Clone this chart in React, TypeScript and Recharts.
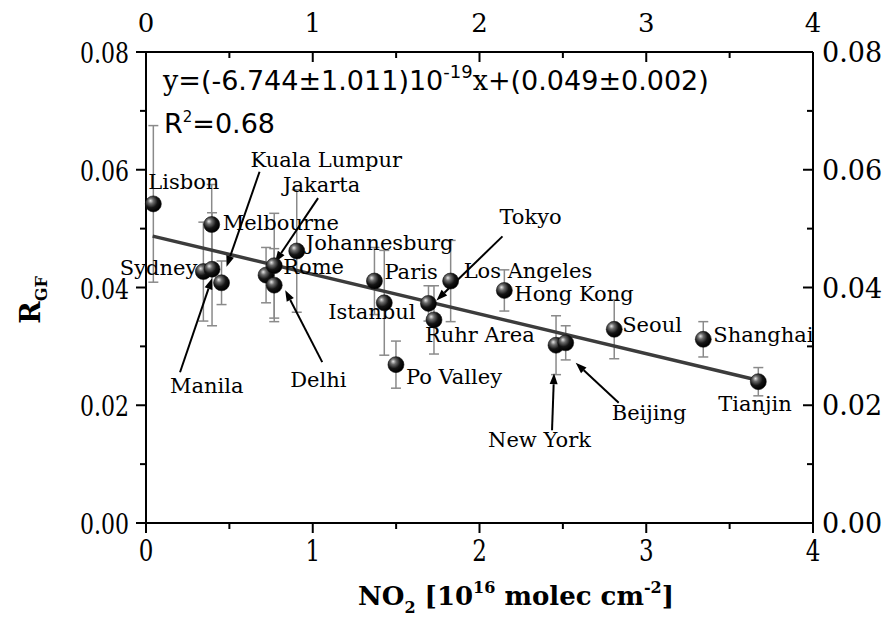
import React from "react";
import { ScatterChart, Scatter, XAxis, YAxis, ErrorBar } from "recharts";

// ---- data ----
const cities = [
  "Lisbon", "Melbourne", "Sydney", "Manila", "Kuala Lumpur", "Jakarta", "Rome",
  "Delhi", "Johannesburg", "Paris", "Istanbul", "Po Valley", "Tokyo", "Ruhr Area",
  "Los Angeles", "Hong Kong", "New York", "Beijing", "Seoul", "Shanghai", "Tianjin",
];
const no2 = [
  0.044, 0.394, 0.344, 0.396, 0.453, 0.72, 0.769, 0.769, 0.904, 1.37, 1.429,
  1.499, 1.694, 1.727, 1.827, 2.149, 2.459, 2.517, 2.808, 3.342, 3.672,
];
const rgf = [
  0.0542, 0.0507, 0.0427, 0.0431, 0.0408, 0.0421, 0.0437, 0.0404, 0.0462, 0.0411,
  0.0374, 0.0269, 0.0373, 0.0345, 0.0411, 0.0395, 0.0302, 0.0306, 0.0329, 0.0312, 0.024,
];
const rgfErr = [
  0.0133, 0.0068, 0.0084, 0.0096, 0.0037, 0.0047, 0.0089, 0.0062, 0.0104, 0.0057,
  0.0089, 0.004, 0.003, 0.0058, 0.0069, 0.0035, 0.005, 0.0029, 0.005, 0.003, 0.0024,
];

// linear fit printed on the figure: y = (-6.744e-19) x[molec cm-2] + 0.049
const fitSlope = -6.744e-19 * 1e16;
const fitIntercept = 0.049;
const fitRange = [0.04, 3.67];

const xTicks = [0, 0.5, 1, 1.5, 2, 2.5, 3, 3.5, 4];
const yTicks = [0, 0.01, 0.02, 0.03, 0.04, 0.05, 0.06, 0.07, 0.08];

const points = cities.map((city, i) => ({ city, no2: no2[i], rgf: rgf[i], err: rgfErr[i] }));
const fitLine = fitRange.map((x) => ({ no2: x, rgf: fitIntercept + fitSlope * x }));

// label placement relative to each point (pixels)
type Placement = { dx: number; dy: number; anchor?: "start" | "end"; arrow?: number[] };
const LABELS: Record<string, Placement> = {
  Lisbon: { dx: -5, dy: -22 },
  Melbourne: { dx: 11, dy: -2 },
  Sydney: { dx: -6, dy: -4, anchor: "end" },
  Manila: { dx: -42, dy: 117, arrow: [-32, 103, 0, 9] },
  "Kuala Lumpur": { dx: 29, dy: -123, arrow: [38, -111, 5, -16] },
  Jakarta: { dx: 17, dy: -90, arrow: [52, -77, 9, -13] },
  Rome: { dx: 9, dy: 1 },
  Delhi: { dx: 16, dy: 95, arrow: [48, 77, 11, 5] },
  Johannesburg: { dx: 9, dy: -8 },
  Paris: { dx: 10, dy: -9 },
  Istanbul: { dx: -56, dy: 9 },
  Tokyo: { dx: 71, dy: -86, arrow: [74, -67, 8, -3] },
  "Ruhr Area": { dx: -9, dy: 15 },
  "Los Angeles": { dx: 13, dy: -10 },
  "Po Valley": { dx: 10, dy: 12 },
  "Hong Kong": { dx: 10, dy: 4 },
  "New York": { dx: -68, dy: 95, arrow: [-4, 85, -2, 28] },
  Beijing: { dx: 46, dy: 70, arrow: [53, 60, 10, 20] },
  Seoul: { dx: 8, dy: -4 },
  Shanghai: { dx: 10, dy: -4 },
  Tianjin: { dx: -40, dy: 22 },
};

const SERIF = "'DejaVu Serif', serif";
const SANS = "'DejaVu Sans', sans-serif";

const isMajorX = (v: number) => Number.isInteger(v);
const isMajorY = (v: number) => Math.round(v * 100) % 2 === 0;

const BottomTick = ({ x, y, payload }: any) => {
  const v = payload.value;
  const major = isMajorX(v);
  return (
    <g>
      <line x1={x} y1={y} x2={x} y2={y + (major ? 10 : 6)} stroke="#000" strokeWidth={2} />
      {major && (
        <text transform={`translate(${x},${y + 38}) scale(1,1.3)`} textAnchor="middle" fontSize={23} fontFamily={SERIF} fill="#000">
          {v}
        </text>
      )}
    </g>
  );
};

const TopTick = ({ x, y, payload }: any) => {
  const v = payload.value;
  const major = isMajorX(v);
  return (
    <g>
      <line x1={x} y1={y} x2={x} y2={y + (major ? 10 : 6)} stroke="#000" strokeWidth={2} />
      {major && (
        <text x={x} y={y - 20} textAnchor="middle" fontSize={26} fontFamily={SERIF} fill="#000">
          {v}
        </text>
      )}
    </g>
  );
};

const LeftTick = ({ x, y, payload }: any) => {
  const v = payload.value;
  const major = isMajorY(v);
  return (
    <g>
      <line x1={x} y1={y} x2={x - (major ? 10 : 6)} y2={y} stroke="#000" strokeWidth={2} />
      {major && (
        <text transform={`translate(${x - 17},${y + 11}) scale(1,1.3)`} textAnchor="end" fontSize={22} fontFamily={SERIF} fill="#000">
          {v.toFixed(2)}
        </text>
      )}
    </g>
  );
};

const RightTick = ({ x, y, payload }: any) => {
  const v = payload.value;
  const major = isMajorY(v);
  return (
    <g>
      <line x1={x} y1={y} x2={x - (major ? 10 : 6)} y2={y} stroke="#000" strokeWidth={2} />
      {major && (
        <text x={x + 9} y={y + 10} textAnchor="start" fontSize={27} fontFamily={SERIF} fill="#000">
          {v.toFixed(2)}
        </text>
      )}
    </g>
  );
};

const Ball = ({ cx, cy }: any) => {
  if (cx == null || cy == null) return <g />;
  return (
    <g>
      <defs>
        <radialGradient id="ballGrad" cx="0.38" cy="0.36" r="0.62" fx="0.32" fy="0.3">
          <stop offset="0%" stopColor="#e6e6e6" />
          <stop offset="28%" stopColor="#6b6b6b" />
          <stop offset="65%" stopColor="#151515" />
          <stop offset="100%" stopColor="#000" />
        </radialGradient>
      </defs>
      <circle cx={cx} cy={cy} r={8} fill="url(#ballGrad)" stroke="#111" strokeWidth={0.6} />
    </g>
  );
};

const CityLabel = ({ cx, cy, payload }: any) => {
  if (cx == null || cy == null) return <g />;
  const p = LABELS[payload.city] || { dx: 10, dy: 0 };
  let arrow = null;
  if (p.arrow) {
    const [x1, y1, x2, y2] = p.arrow;
    const ax = cx + x2;
    const ay = cy + y2;
    const ang = Math.atan2(y2 - y1, x2 - x1);
    const len = 11;
    const hw = 4;
    const bx = ax - len * Math.cos(ang);
    const by = ay - len * Math.sin(ang);
    const nx = -Math.sin(ang) * hw;
    const ny = Math.cos(ang) * hw;
    arrow = (
      <g>
        <line x1={cx + x1} y1={cy + y1} x2={bx} y2={by} stroke="#000" strokeWidth={2} />
        <polygon points={`${ax},${ay} ${bx + nx},${by + ny} ${bx - nx},${by - ny}`} fill="#000" />
      </g>
    );
  }
  return (
    <g>
      {arrow}
      <text
        x={cx + p.dx}
        y={cy + p.dy}
        textAnchor={p.anchor || "start"}
        dominantBaseline="central"
        fontSize={21}
        fontFamily={SERIF}
        fill="#000"
      >
        {payload.city}
      </text>
    </g>
  );
};

export default function App() {
  return (
    <div style={{ position: "absolute", left: 0, top: 0, width: 888, height: 619, background: "#fff" }}>
      <ScatterChart width={888} height={619} margin={{ top: 0, right: 0, bottom: 0, left: 0 }}>
        <XAxis
          xAxisId="bottom"
          orientation="bottom"
          type="number"
          dataKey="no2"
          domain={[0, 4]}
          ticks={xTicks}
          interval={0}
          height={96}
          tickSize={0}
          tickMargin={0}
          tickLine={false}
          axisLine={{ stroke: "#000", strokeWidth: 2 }}
          tick={<BottomTick />}
        />
        <XAxis
          xAxisId="top"
          orientation="top"
          type="number"
          dataKey="no2"
          domain={[0, 4]}
          ticks={xTicks}
          interval={0}
          height={52}
          tickSize={0}
          tickMargin={0}
          tickLine={false}
          axisLine={{ stroke: "#000", strokeWidth: 2 }}
          tick={<TopTick />}
        />
        <YAxis
          yAxisId="left"
          orientation="left"
          type="number"
          dataKey="rgf"
          domain={[0, 0.08]}
          ticks={yTicks}
          interval={0}
          width={146}
          tickSize={0}
          tickMargin={0}
          tickLine={false}
          axisLine={{ stroke: "#000", strokeWidth: 2 }}
          tick={<LeftTick />}
        />
        <YAxis
          yAxisId="right"
          orientation="right"
          type="number"
          dataKey="rgf"
          domain={[0, 0.08]}
          ticks={yTicks}
          interval={0}
          width={75}
          tickSize={0}
          tickMargin={0}
          tickLine={false}
          axisLine={{ stroke: "#000", strokeWidth: 2 }}
          tick={<RightTick />}
        />
        {/* mirror axes need a series to be drawn */}
        <Scatter data={fitLine} xAxisId="top" yAxisId="right" shape={() => <g />} isAnimationActive={false} />
        <Scatter
          data={fitLine}
          xAxisId="bottom"
          yAxisId="left"
          line={{ stroke: "#3c3c3c", strokeWidth: 3.5 }}
          shape={() => <g />}
          isAnimationActive={false}
        />
        <Scatter data={points} xAxisId="bottom" yAxisId="left" shape={<CityLabel />} isAnimationActive={false} />
        <Scatter data={points} xAxisId="bottom" yAxisId="left" shape={<Ball />} isAnimationActive={false}>
          <ErrorBar dataKey="err" direction="y" width={5} stroke="#8a8a8a" strokeWidth={1.5} isAnimationActive={false} />
        </Scatter>
      </ScatterChart>
      <svg width={888} height={619} style={{ position: "absolute", left: 0, top: 0, pointerEvents: "none" }}>
        <text x={163} y={90} fontSize={27} fontFamily={SANS} fill="#000">
          <tspan fontFamily={SERIF}>y=</tspan>
          <tspan>(-6.744±1.011)10</tspan>
          <tspan fontSize={18} dy={-12}>-19</tspan>
          <tspan fontFamily={SERIF} dy={12}>x+</tspan>
          <tspan>(0.049±0.002)</tspan>
        </text>
        <text x={164} y={133} fontSize={27} fontFamily={SANS} fill="#000">
          R<tspan fontSize={15} dy={-11}>2</tspan>
          <tspan dy={11}>=0.68</tspan>
        </text>
        <text x={516} y={605} textAnchor="middle" fontSize={26} fontWeight="bold" fontFamily={SERIF} fill="#000">
          NO<tspan fontSize={16} dy={8}>2</tspan>
          <tspan dy={-8}> [10</tspan>
          <tspan fontSize={16} dy={-12}>16</tspan>
          <tspan dy={12}> molec cm</tspan>
          <tspan fontSize={16} dy={-12}>-2</tspan>
          <tspan dy={12}>]</tspan>
        </text>
        <text transform="translate(40,300) rotate(-90)" textAnchor="middle" fontSize={27} fontWeight="bold" fontFamily={SERIF} fill="#000">
          R<tspan fontSize={16} dy={7}>GF</tspan>
        </text>
      </svg>
    </div>
  );
}
